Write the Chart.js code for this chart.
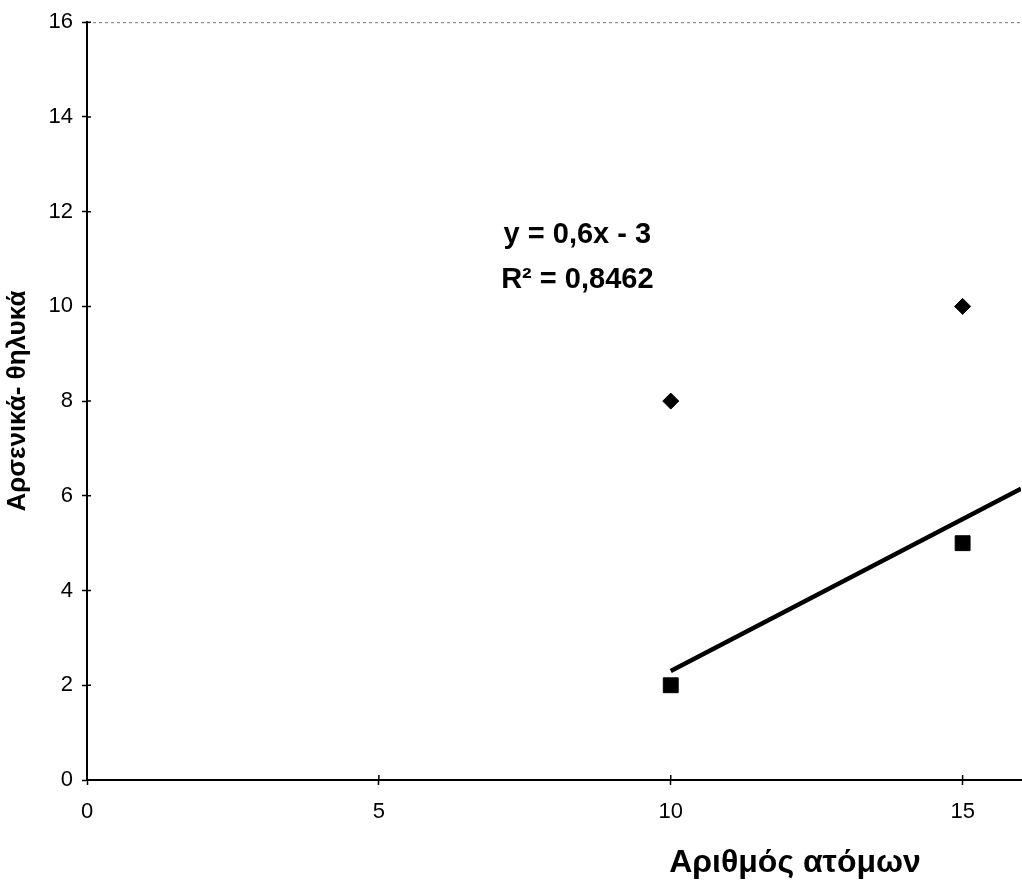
<!DOCTYPE html>
<html>
<head>
<meta charset="utf-8">
<script src="https://cdn.jsdelivr.net/npm/chart.js@4/dist/chart.umd.min.js"></script>
<style>
  html, body { margin: 0; padding: 0; background: #fff; overflow: hidden; }
  #wrap { width: 1022px; height: 887px; }
  canvas { display: block; }
</style>
</head>
<body>
<div id="wrap"><canvas id="grafica"></canvas></div>
<script>
// Datos
var xValores = [10, 15];
var diamantes = [8, 10];      // serie 1
var cuadrados = [2, 5];       // serie 2
var lineaX = [10, 16];        // linea de tendencia
var lineaY = [2.3, 6.15];
var xTicks = [0, 5, 10, 15];
var ecuacion = ['y = 0,6x - 3', 'R² = 0,8462'];
var tituloX = 'Αριθμός ατόμων';
var tituloY = 'Αρσενικά- θηλυκά';

function puntos(xs, ys) {
    var res = [];
    for (var i = 0; i < xs.length; i++) res.push({ x: xs[i], y: ys[i] });
    return res;
}

var extras = {
    id: 'extras',
    afterDraw: function (chart) {
        var ctx = chart.ctx;
        var a = chart.chartArea;
        var sx = chart.scales.x, sy = chart.scales.y;
        ctx.save();
        // linea punteada superior
        ctx.strokeStyle = '#777';
        ctx.lineWidth = 1;
        ctx.setLineDash([3, 3]);
        ctx.beginPath();
        ctx.moveTo(a.left, a.top + 0.5);
        ctx.lineTo(a.right, a.top + 0.5);
        ctx.stroke();
        ctx.setLineDash([]);
        // marcas hacia dentro
        ctx.strokeStyle = '#000';
        ctx.lineWidth = 1.5;
        ctx.beginPath();
        for (var v = 0; v <= 16; v += 2) {
            var py = sy.getPixelForValue(v);
            ctx.moveTo(a.left, py);
            ctx.lineTo(a.left + 4, py);
        }
        xTicks.forEach(function (t) {
            var px = sx.getPixelForValue(t);
            ctx.moveTo(px, a.bottom);
            ctx.lineTo(px, a.bottom - 5);
        });
        ctx.stroke();
        // ecuacion
        ctx.fillStyle = '#000';
        ctx.font = 'bold 29px "Liberation Sans", Arial, sans-serif';
        ctx.textAlign = 'center';
        ctx.textBaseline = 'middle';
        ctx.fillText(ecuacion[0], sx.getPixelForValue(8.4), sy.getPixelForValue(11.5));
        ctx.fillText(ecuacion[1], sx.getPixelForValue(8.4), sy.getPixelForValue(10.55));
        // titulo eje x
        ctx.font = 'bold 32px "Liberation Sans", Arial, sans-serif';
        ctx.textBaseline = 'alphabetic';
        ctx.fillText(tituloX, 795, 872);
        ctx.restore();
    }
};

var fuente = { family: '"Liberation Sans", Arial, sans-serif', size: 22 };

var config = {
    type: 'scatter',
    data: {
        datasets: [{
            label: 'Serie 1',
            data: puntos(xValores, diamantes),
            pointStyle: 'rectRot',
            pointRadius: 8,
            backgroundColor: '#000',
            borderColor: '#000'
        }, {
            label: 'Serie 2',
            data: puntos(xValores, cuadrados),
            pointStyle: 'rect',
            pointRadius: 10.5,
            backgroundColor: '#000',
            borderColor: '#000'
        }, {
            label: 'Tendencia',
            type: 'line',
            data: puntos(lineaX, lineaY),
            borderColor: '#000',
            borderWidth: 4.5,
            pointRadius: 0,
            fill: false
        }]
    },
    options: {
        responsive: true,
        maintainAspectRatio: false,
        animation: false,
        layout: { autoPadding: false, padding: { top: 19, right: 1, left: 0, bottom: 0 } },
        plugins: { legend: { display: false }, tooltip: { enabled: false } },
        scales: {
            x: {
                type: 'linear', min: 0, max: 16,
                afterBuildTicks: function (s) {
                    s.ticks = xTicks.map(function (v) { return { value: v }; });
                },
                afterFit: function (s) { s.height = 107; s.paddingRight = 0; },
                ticks: { color: '#000', font: fuente, padding: 14, maxRotation: 0 },
                grid: { drawOnChartArea: false, tickColor: '#000', tickLength: 5, tickWidth: 1.5 },
                border: { color: '#000', width: 2 }
            },
            y: {
                min: 0, max: 16,
                ticks: { stepSize: 2, color: '#000', font: fuente, padding: 9 },
                afterFit: function (s) { s.width = 87; },
                grid: { drawOnChartArea: false, tickColor: '#000', tickLength: 5, tickWidth: 1.5 },
                border: { color: '#000', width: 2 },
                title: {
                    display: true, text: tituloY, color: '#000',
                    font: { family: '"Liberation Sans", Arial, sans-serif', size: 26, weight: 'bold' },
                    padding: { top: 2, bottom: 0 }
                }
            }
        }
    },
    plugins: [extras]
};

window.grafica = new Chart(document.getElementById('grafica'), config);
</script>
</body>
</html>
